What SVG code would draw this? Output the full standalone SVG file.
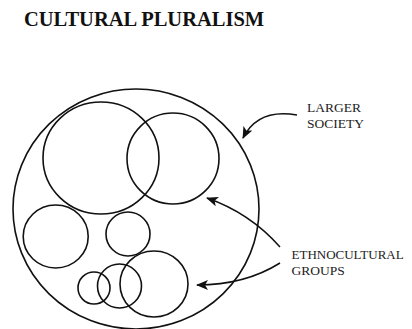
<svg xmlns="http://www.w3.org/2000/svg" width="412" height="329" viewBox="0 0 412 329">
<defs>
<marker id="ah" viewBox="0 0 12 10" refX="11" refY="5" markerWidth="12" markerHeight="10" markerUnits="userSpaceOnUse" orient="auto">
<path d="M0,0 L12,5 L0,10 L3,5 Z" fill="#111"/>
</marker>
<style>
.c{fill:none;stroke:#111;stroke-width:1.6}
.a{fill:none;stroke:#111;stroke-width:1.5;marker-end:url(#ah)}
.t{font-family:"Liberation Serif","Times New Roman",serif;font-size:13.5px;fill:#222}
.h{font-family:"Liberation Serif","Times New Roman",serif;font-size:20.5px;font-weight:bold;fill:#111}
</style>
</defs>
<rect width="412" height="329" fill="#fff"/>
<text class="h" x="24" y="26">CULTURAL PLURALISM</text>
<g id="larger-society"><ellipse class="c" cx="136" cy="209" rx="123" ry="120"/></g>
<g id="group1"><ellipse class="c" cx="101" cy="158" rx="58" ry="56"/></g>
<g id="group2"><ellipse class="c" cx="173" cy="158.5" rx="46" ry="45.5"/></g>
<g id="group3"><ellipse class="c" cx="55.7" cy="236.5" rx="32.5" ry="31.5"/></g>
<g id="group4"><circle class="c" cx="128" cy="234" r="22"/></g>
<g id="group5"><circle class="c" cx="94" cy="288" r="16"/></g>
<g id="group6"><circle class="c" cx="119.5" cy="286" r="22"/></g>
<g id="group7"><ellipse class="c" cx="154" cy="284" rx="34" ry="33"/></g>
<g id="connectors">
<path class="a" d="M297,115 Q258,108 243,138"/>
<path class="a" d="M280,247 Q250,213 207,198"/>
<path class="a" d="M280,263 Q245,285 197,285"/>
</g>
<g id="label-larger"><text class="t" x="307" y="112">LARGER</text><text class="t" x="307" y="128">SOCIETY</text></g>
<g id="label-ethno"><text class="t" x="291.5" y="259" style="font-size:13px">ETHNOCULTURAL</text><text class="t" x="291.5" y="275">GROUPS</text></g>
</svg>
